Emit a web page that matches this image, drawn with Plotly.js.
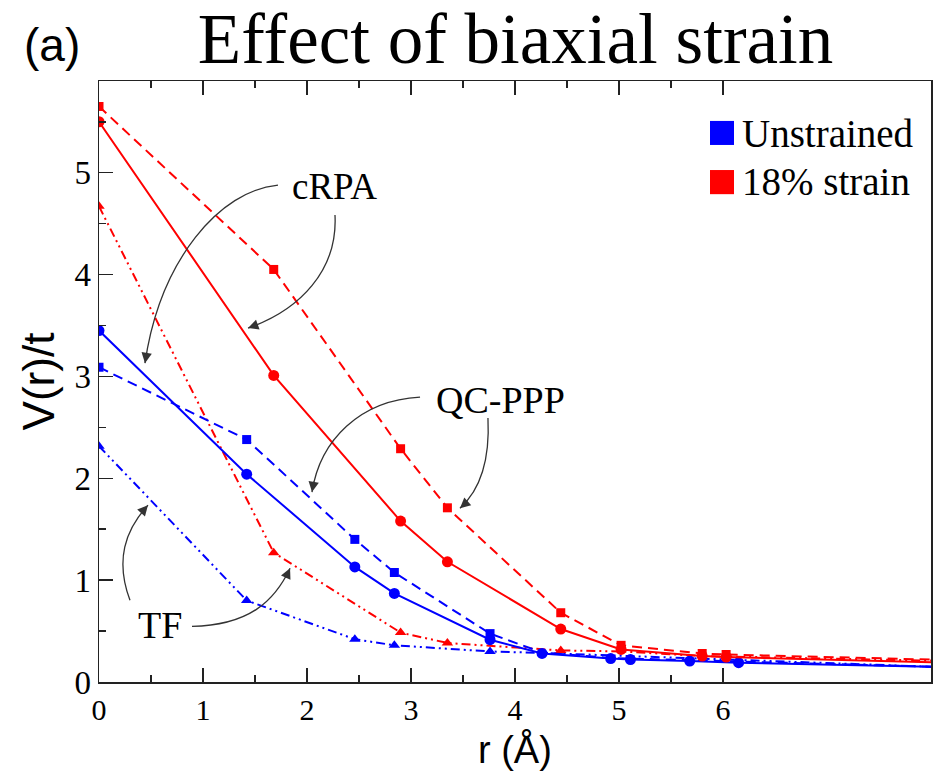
<!DOCTYPE html>
<html>
<head>
<meta charset="utf-8">
<script src="https://cdn.plot.ly/plotly-3.0.1.min.js"></script>
<style>
  html, body { margin: 0; padding: 0; background: #fff; }
  #chart { width: 946px; height: 771px; }
</style>
</head>
<body>
<div id="chart"></div>
<script>
// Interaction V(r)/t versus distance r (Å), unstrained vs 18% biaxial strain

// Unstrained lattice
const blueCrpaR   = [0, 1.42, 2.46, 2.84, 3.76, 4.26, 4.92, 5.11, 5.68, 6.15];
const blueCrpaV   = [3.45, 2.04, 1.13, 0.87, 0.415, 0.28, 0.23, 0.22, 0.205, 0.19];
const blueCrpaTailR = [8.0];
const blueCrpaTailV = [0.15];

const blueQcR     = [0, 1.42, 2.46, 2.84, 3.76];
const blueQcV     = [3.09, 2.38, 1.40, 1.075, 0.475];
const blueQcTailR = [4.26, 4.92, 8.0];
const blueQcTailV = [0.29, 0.235, 0.15];

const blueTfR     = [0, 1.42, 2.46, 2.84, 3.76];
const blueTfV     = [2.315, 0.80, 0.42, 0.36, 0.30];
const blueTfTailR = [4.26, 8.0];
const blueTfTailV = [0.285, 0.15];

// 18% strain
const redCrpaR    = [0, 1.68, 2.90, 3.35, 4.44, 5.02, 5.80, 6.03];
const redCrpaV    = [5.50, 3.01, 1.58, 1.18, 0.52, 0.32, 0.255, 0.245];
const redCrpaTailR = [8.0];
const redCrpaTailV = [0.195];

const redQcR      = [0, 1.68, 2.90, 3.35, 4.44, 5.02, 5.80, 6.03];
const redQcV      = [5.65, 4.05, 2.29, 1.71, 0.68, 0.36, 0.28, 0.27];
const redQcTailR  = [8.0];
const redQcTailV  = [0.22];

const redTfR      = [0, 1.68, 2.90, 3.35, 4.44];
const redTfV      = [4.67, 1.27, 0.485, 0.383, 0.31];
const redTfTailR  = [5.02, 5.80, 8.0];
const redTfTailV  = [0.30, 0.255, 0.21];

const xTickVals = [0, 1, 2, 3, 4, 5, 6];
const xTickText = ['0', '1', '2', '3', '4', '5', '6'];
const yTickVals = [0, 1, 2, 3, 4, 5];
const yTickText = ['0', '1', '2', '3', '4', '5'];

const BLUE = '#0000ff';
const RED = '#ff0000';
const DASH = '10px,6px';
const DASHDOTDOT = '9px,4px,2px,4px,2px,4px';

function series(r, v, tailR, tailV, color, dash, symbol, size) {
  return [
    {
      x: r.concat(tailR), y: v.concat(tailV),
      mode: 'lines', type: 'scatter', showlegend: false, hoverinfo: 'skip',
      line: { color: color, width: 2, dash: dash }
    },
    {
      x: r, y: v,
      mode: 'markers', type: 'scatter', showlegend: false,
      marker: { color: color, symbol: symbol, size: size, line: { width: 0 } }
    }
  ];
}

const traces = [].concat(
  series(blueTfR, blueTfV, blueTfTailR, blueTfTailV, BLUE, DASHDOTDOT, 'triangle-up', 10),
  series(redTfR, redTfV, redTfTailR, redTfTailV, RED, DASHDOTDOT, 'triangle-up', 10),
  series(blueQcR, blueQcV, blueQcTailR, blueQcTailV, BLUE, DASH, 'square', 9),
  series(redQcR, redQcV, redQcTailR, redQcTailV, RED, DASH, 'square', 9),
  series(blueCrpaR, blueCrpaV, blueCrpaTailR, blueCrpaTailV, BLUE, 'solid', 'circle', 11),
  series(redCrpaR, redCrpaV, redCrpaTailR, redCrpaTailV, RED, 'solid', 'circle', 11)
);

const serif = 'Liberation Serif, Times New Roman, serif';
const sans = 'Liberation Sans, Arial, sans-serif';
const AXIS = '#222';

// curved leader lines (cubic Béziers in data units) and their arrow tips
const leaders = [
  { path: 'M1.721,4.877 C1.163,4.828 0.587,4.142 0.442,3.130', tip: [0.442, 3.130], back: [2, -12] },
  { path: 'M2.269,4.585 C2.298,4.044 1.933,3.651 1.433,3.474', tip: [1.433, 3.474], back: [11, -4] },
  { path: 'M3.087,2.797 C2.510,2.767 2.125,2.375 2.048,1.864', tip: [2.048, 1.864], back: [2, -12] },
  { path: 'M3.740,2.591 C3.760,2.178 3.663,1.883 3.471,1.706', tip: [3.471, 1.706], back: [9, -8] },
  { path: 'M0.298,0.802 C0.154,1.196 0.250,1.490 0.471,1.736', tip: [0.471, 1.736], back: [-8, 9] },
  { path: 'M0.894,0.547 C1.452,0.557 1.692,0.803 1.837,1.117', tip: [1.837, 1.117], back: [-5, 11] }
];

const shapes = leaders.map(l => ({
  type: 'path', xref: 'x', yref: 'y', path: l.path,
  line: { color: '#333', width: 1.3 }
}));

// legend swatches
shapes.push(
  { type: 'rect', xref: 'x', yref: 'y', x0: 5.875, x1: 6.106, y0: 5.272, y1: 5.508,
    fillcolor: BLUE, line: { width: 0 } },
  { type: 'rect', xref: 'x', yref: 'y', x0: 5.875, x1: 6.106, y0: 4.789, y1: 5.026,
    fillcolor: RED, line: { width: 0 } }
);

const annotations = leaders.map(l => ({
  xref: 'x', yref: 'y', x: l.tip[0], y: l.tip[1], text: '',
  showarrow: true, ax: l.back[0], ay: l.back[1],
  arrowhead: 2, arrowsize: 1.6, arrowwidth: 1.3, arrowcolor: '#333', standoff: 0
}));

annotations.push(
  { xref: 'x', yref: 'y', x: 2.269, y: 4.869, text: 'cRPA', showarrow: false,
    font: { family: serif, size: 37, color: '#000' } },
  { xref: 'x', yref: 'y', x: 3.856, y: 2.767, text: 'QC-PPP', showarrow: false,
    font: { family: serif, size: 38, color: '#000' } },
  { xref: 'x', yref: 'y', x: 0.587, y: 0.557, text: 'TF', showarrow: false,
    font: { family: serif, size: 38, color: '#000' } },
  { xref: 'x', yref: 'y', x: 6.16, y: 5.385, text: 'Unstrained', showarrow: false,
    xanchor: 'left', yanchor: 'middle', font: { family: serif, size: 39, color: '#000' } },
  { xref: 'x', yref: 'y', x: 6.16, y: 4.909, text: '18% strain', showarrow: false,
    xanchor: 'left', yanchor: 'middle', font: { family: serif, size: 39, color: '#000' } },
  { xref: 'paper', yref: 'paper', x: -0.057, y: 1.06, text: '(a)', showarrow: false,
    xanchor: 'center', yanchor: 'middle', font: { family: sans, size: 46, color: '#000' } },
  // x-axis title
  { xref: 'paper', yref: 'paper', x: 0.5, y: -0.113, text: 'r (Å)', showarrow: false,
    xanchor: 'center', yanchor: 'middle', borderpad: 0,
    font: { family: sans, size: 38, color: '#000' } }
);

const layout = {
  width: 946, height: 771,
  margin: { l: 99, r: 15, t: 81, b: 89 },
  paper_bgcolor: '#fff', plot_bgcolor: '#fff',
  showlegend: false,
  title: {
    text: 'Effect of biaxial strain',
    font: { family: serif, size: 71, color: '#000' },
    x: 0.545, xanchor: 'center', xref: 'container',
    y: 0.95, yanchor: 'middle', yref: 'container'
  },
  xaxis: {
    range: [0, 8], showgrid: false, zeroline: false,
    showline: true, linecolor: AXIS, linewidth: 1.5, mirror: 'ticks',
    tickmode: 'array', tickvals: xTickVals, ticktext: xTickText,
    ticks: 'inside', ticklen: 14, tickwidth: 1.5, tickcolor: AXIS,
    minor: { tickmode: 'array', tickvals: [0.5, 1.5, 2.5, 3.5, 4.5, 5.5],
             ticks: 'inside', ticklen: 7, tickwidth: 1.5, tickcolor: AXIS, showgrid: false },
    tickfont: { family: serif, size: 30, color: '#000' }
  },
  yaxis: {
    range: [0, 5.9], showgrid: false, zeroline: false,
    showline: true, linecolor: AXIS, linewidth: 1.5, mirror: true,
    tickmode: 'array', tickvals: yTickVals, ticktext: yTickText,
    ticks: 'inside', ticklen: 14, tickwidth: 1.5, tickcolor: AXIS,
    minor: { tickmode: 'array', tickvals: [0.5, 1.5, 2.5, 3.5, 4.5, 5.5],
             ticks: 'inside', ticklen: 7, tickwidth: 1.5, tickcolor: AXIS, showgrid: false },
    tickfont: { family: serif, size: 33, color: '#000' },
    title: { text: 'V(r)/t', font: { family: sans, size: 44, color: '#000' }, standoff: 6 }
  },
  shapes: shapes,
  annotations: annotations
};

Plotly.newPlot('chart', traces, layout, { staticPlot: true, displayModeBar: false });
</script>
</body>
</html>
